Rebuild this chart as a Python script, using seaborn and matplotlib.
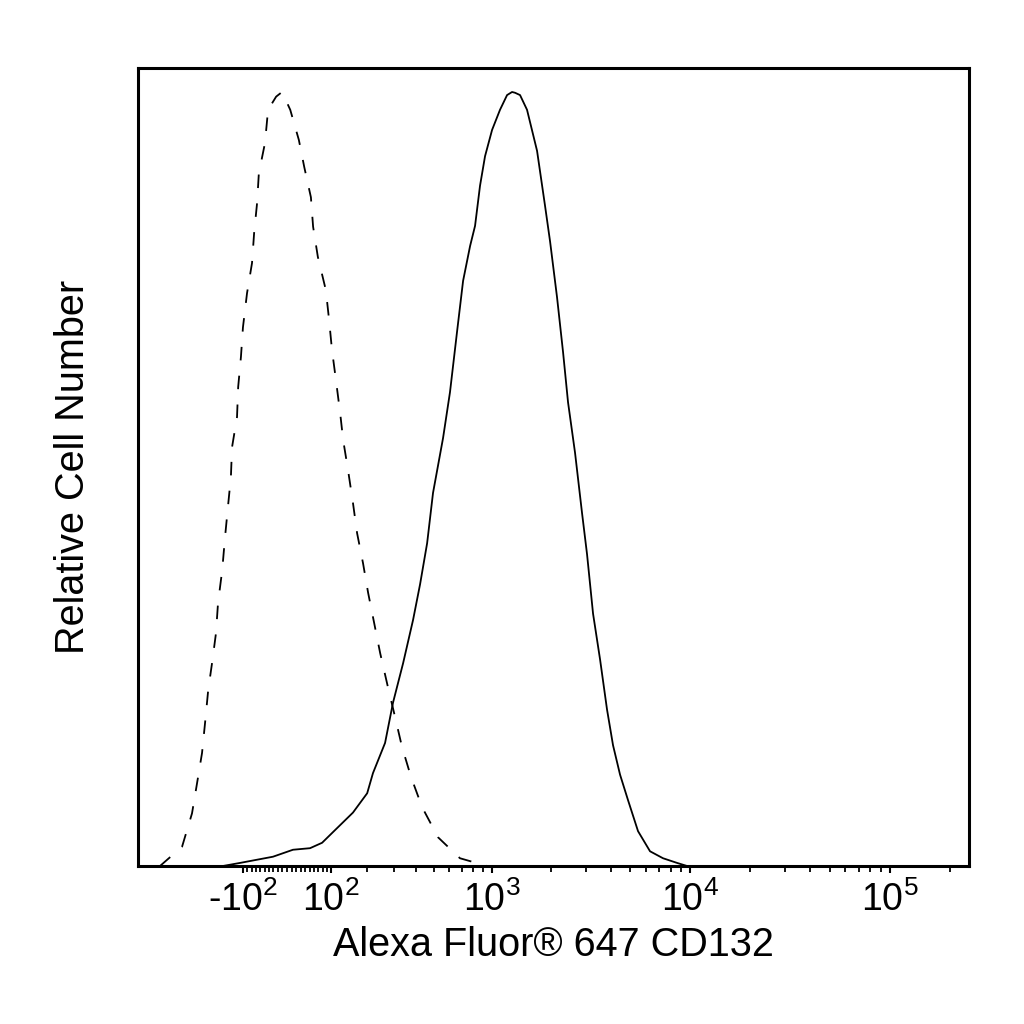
import numpy as np
import pandas as pd
import matplotlib
matplotlib.use("Agg")
import matplotlib.pyplot as plt
import seaborn as sns

# ---------------- data ----------------
# isotype control (dashed) : fluorescence intensity vs relative count (%)
iso_x = [-390, -291, -253, -235, -218, -208, -198, -186, -174, -168, -156, -148,
         -140, -132, -129, -116, -113, -106, -101, -91, -79, -74, -67, -63, -49,
         -42, -24, -11, 7, 26, 38, 53, 58, 69, 88, 96, 103, 113, 124, 132, 145,
         159, 171, 189, 205, 225, 246, 275, 303, 333, 375, 432, 527, 687, 947]
iso_y = [0.0, 2.5, 6.8, 10.7, 14.6, 18.5, 22.7, 26.2, 30.1, 34.0, 38.2, 42.5,
         46.4, 50.3, 54.1, 58.0, 61.9, 65.8, 69.6, 74.0, 77.9, 81.8, 85.7, 89.5,
         93.4, 97.7, 99.4, 100.0, 97.7, 93.8, 90.3, 86.4, 82.6, 78.7, 74.4, 70.5,
         66.7, 62.8, 58.5, 55.0, 51.2, 46.9, 43.0, 39.1, 35.3, 31.4, 27.5, 23.1,
         19.3, 15.4, 11.5, 7.6, 3.7, 1.0, 0.0]

# CD132 stained (solid)
cd_x = [-154, -108, -31, 13, 51, 79, 106, 159, 202, 221, 264, 295, 338, 385,
        421, 460, 495, 560, 609, 663, 713, 775, 822, 872, 925, 1005, 1103, 1198,
        1270, 1315, 1394, 1512, 1699, 1864, 1976, 2142, 2297, 2434, 2639, 2862,
        3032, 3251, 3525, 3822, 4096, 4442, 4872, 5468, 6282, 7300, 8581, 9632]
cd_y = [0.0, 0.4, 1.2, 2.1, 2.3, 3.0, 4.4, 6.9, 9.4, 12.0, 15.9, 21.1, 26.2,
        31.8, 36.4, 41.7, 48.2, 55.3, 61.2, 69.0, 75.6, 80.1, 82.7, 87.9, 91.7,
        95.1, 97.7, 99.6, 100.0, 99.9, 99.6, 97.7, 92.4, 85.3, 80.7, 73.5, 66.4,
        59.9, 53.4, 45.6, 40.3, 32.6, 26.7, 20.2, 15.6, 11.8, 8.5, 4.5, 1.9,
        1.0, 0.4, 0.0]

series_names = ["Isotype", "CD132"]

major_ticks = [-100, 100, 1000, 10000, 100000]
major_labels = [r"$\mathregular{\text{-}10^{2}}$", r"$\mathregular{10^{2}}$",
                r"$\mathregular{10^{3}}$", r"$\mathregular{10^{4}}$",
                r"$\mathregular{10^{5}}$"]
minor_ticks = ([v for v in range(-90, 100, 10)] +
               [v * 100 for v in range(2, 10)] +
               [v * 1000 for v in range(2, 10)] +
               [v * 10000 for v in range(2, 10)] + [200000])

x_label = "Alexa Fluor® 647 CD132"
y_label = "Relative Cell Number"

# ---------------- style ----------------
sns.set_style("ticks")
plt.rcParams["font.family"] = ["Liberation Sans", "DejaVu Sans"]
plt.rcParams["mathtext.fontset"] = "custom"
plt.rcParams["mathtext.rm"] = "Liberation Sans"
plt.rcParams["text.color"] = "black"
plt.rcParams["axes.labelcolor"] = "black"
plt.rcParams["xtick.color"] = "black"
plt.rcParams["xtick.labelcolor"] = "black"

df = pd.concat([
    pd.DataFrame({"x": iso_x, "y": iso_y, "sample": series_names[0]}),
    pd.DataFrame({"x": cd_x, "y": cd_y, "sample": series_names[1]}),
], ignore_index=True)

fig = plt.figure(figsize=(10.24, 10.24), dpi=100)
ax = fig.add_axes([0.1348, 0.1543, 0.8115, 0.7793])

# biexponential-like display (arcsinh)
W = 190.0
ax.set_xscale("function",
              functions=(lambda v: np.arcsinh(np.asarray(v) / W),
                         lambda v: W * np.sinh(np.asarray(v))))

sns.lineplot(data=df, x="x", y="y", style="sample",
             dashes={series_names[0]: (7.5, 8.5), series_names[1]: ""},
             color="black", linewidth=1.3, estimator=None, sort=False,
             legend=False, ax=ax)

ax.set_xlim(-514, 250000)
ax.set_ylim(0, 103.1)

ax.set_xticks(major_ticks)
ax.set_xticklabels(major_labels, fontsize=27, color="black")
ax.set_xticks(minor_ticks, minor=True)
ax.set_yticks([])
ax.tick_params(axis="x", which="major", direction="out", length=5,
               width=1.5, pad=6, color="black")
ax.tick_params(axis="x", which="minor", direction="out", length=4,
               width=1.3, color="black")

for sp in ax.spines.values():
    sp.set_visible(True)
    sp.set_linewidth(2.2)
    sp.set_color("black")

ax.set_xlabel(x_label, fontsize=28.5, color="black")
ax.xaxis.set_label_coords(0.5, -0.0755)
ax.xaxis.label.set_va("top")
ax.set_ylabel(y_label, fontsize=28.5, color="black", labelpad=33)

fig.savefig("out.png", dpi=100, facecolor="white")
